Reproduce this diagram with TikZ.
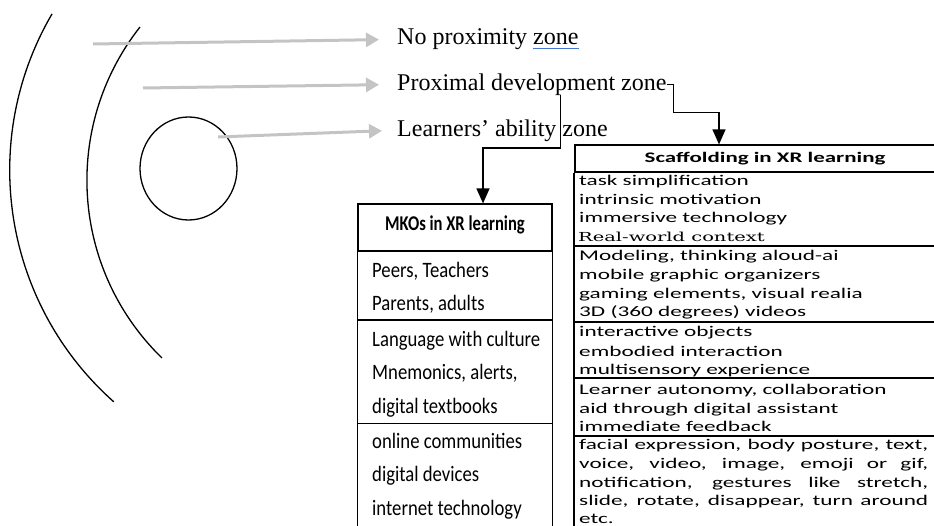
\documentclass[tikz,border=0pt]{standalone}
\usepackage{fontspec}
\setmainfont{Liberation Serif}
\newfontfamily\mkofont[FakeStretch=0.85]{Carlito}
\newfontfamily\mkohfont[FakeStretch=0.79]{Carlito}
\newfontfamily\scafont[FakeStretch=1.57]{Carlito}
\newfontfamily\rwfont[FakeStretch=1.57]{DejaVu Serif}
\usetikzlibrary{arrows.meta}
\definecolor{arrowgray}{RGB}{196,196,196}
\definecolor{spellblue}{RGB}{70,120,210}
\begin{document}
\begin{tikzpicture}[x=1pt,y=-1pt,
  zone/.style={font=\fontsize{24}{28}\selectfont, inner sep=0pt, anchor=base west},
  garrow/.style={draw=arrowgray, line width=3pt, -{Triangle[length=13pt,width=14pt]}},
  blk/.style={line width=1.3pt, -{Triangle[length=15pt,width=13pt]}},
  arcline/.style={line width=1.3pt},
  rule/.style={line width=1.2pt},
  mkotxt/.style={font=\mkofont\fontsize{22}{26}\selectfont, inner sep=0pt, anchor=base west},
  scatxt/.style={font=\scafont\fontsize{14.8}{18}\selectfont, inner sep=0pt, anchor=base west},
]
\useasboundingbox (0,0) rectangle (934,526);
\clip (0,0) rectangle (934,526);

% zones
\draw[arcline] ([shift={(319.5,170.2)}]149.7:309.8pt) arc[start angle=149.7, end angle=228.4, radius=309.8pt];
\draw[arcline] ([shift={(334.8,180.3)}]141.8:247.9pt) arc[start angle=141.8, end angle=225.8, radius=247.9pt];
\draw[arcline] (188.5,168.5) ellipse [x radius=48.5pt, y radius=51.5pt];

% zone labels
\node[zone] (z1) at (397,45) {No proximity zone};
\node[zone] (z2) at (397,90.5) {Proximal development zone};
\node[zone] (z3) at (397,136.5) {Learners’ ability zone};
\draw[spellblue, line width=1.3pt] ([shift={(-46,3.5)}]z1.base east) -- ([shift={(0,3.5)}]z1.base east);

\coordinate (g1) at (93,44);
\coordinate (g2) at (143,88);
\coordinate (g3) at (218,137);
\draw[garrow] (g1) -- ([xshift=-18pt]z1.west);
\draw[garrow] (g2) -- ([xshift=-18pt]z2.west);
\draw[garrow] (g3) -- ([xshift=-15pt]z3.west);

% MKO table
\node[draw, rule, minimum width=194pt, minimum height=47pt, inner sep=0pt,
  text height=12pt, text depth=5.6pt,
  font=\mkohfont\bfseries\fontsize{21}{25}\selectfont] (mkoh) at (455,227.5) {MKOs in XR learning};
\draw[rule] (mkoh.south west) -- ++(0,290);
\draw[rule] (mkoh.south east) -- ++(0,290);
\draw[rule] (358,320) -- (552,320);
\draw[rule] (358,423.3) -- (552,423.3);
\node[mkotxt] (m1) at (372,277.3) {Peers, Teachers};
\node[mkotxt] (m2) at (372,310.7) {Parents, adults};
\node[mkotxt] (m3) at (372,346.7) {Language with culture};
\node[mkotxt] (m4) at (372,380) {Mnemonics, alerts,};
\node[mkotxt] (m5) at (372,413.3) {digital textbooks};
\node[mkotxt] (m6) at (372,448.3) {online communities};
\node[mkotxt] (m7) at (372,481.7) {digital devices};
\node[mkotxt] (m8) at (372,515) {internet technology};

% Scaffolding table
\node[draw, rule, minimum width=380pt, minimum height=27pt, inner sep=0pt,
  text height=10pt, text depth=1.6pt,
  font=\scafont\bfseries\fontsize{14.6}{18}\selectfont] (scah) at (765,158.5) {Scaffolding in XR learning};
\draw[line width=1.9pt] (scah.south west) -- ++(0,360);
\foreach \yy in {246,322,378,436} \draw[rule] (573,\yy) -- (940,\yy);

\node[scatxt] (s1) at (579,186) {task simplification};
\node[scatxt] (s2) at (579,205) {intrinsic motivation};
\node[scatxt] (s3) at (579,223) {immersive technology};
\node[inner sep=0pt, anchor=base west, font=\rwfont\fontsize{12.4}{15}\selectfont] (s4) at (578,242) {Real-world context};
\node[scatxt] (s5) at (579,261) {Modeling, thinking aloud-ai};
\node[scatxt] (s6) at (579,280) {mobile graphic organizers};
\node[scatxt] (s7) at (579,299) {gaming elements, visual realia};
\node[scatxt] (s8) at (579,317) {3D (360 degrees) videos};
\node[scatxt] (s9) at (579,337) {interactive objects};
\node[scatxt] (s10) at (579,356) {embodied interaction};
\node[scatxt] (s11) at (579,374) {multisensory experience};
\node[scatxt] (s12) at (579,395) {Learner autonomy, collaboration};
\node[scatxt] (s13) at (579,413) {aid through digital assistant};
\node[scatxt] (s14) at (579,431) {immediate feedback};
\node[scatxt] (s15) at (579,449) {\makebox[349pt][s]{facial expression, body posture, text,}};
\node[scatxt] (s16) at (579,468) {\makebox[349pt][s]{voice, video, image, emoji or gif,}};
\node[scatxt] (s17) at (579,487) {\makebox[349pt][s]{notification, gestures like stretch,}};
\node[scatxt] (s18) at (579,505) {\makebox[349pt][s]{slide, rotate, disappear, turn around}};
\node[scatxt] (s19) at (579,523) {etc.};

% connectors
\coordinate (pdzdrop) at (560.5,95);
\coordinate (mkox) at (483,0);
\coordinate (scax) at (719,0);
\draw[blk] (pdzdrop) -- ++(0,53) -| (mkoh.north -| mkox);
\draw[blk] (z2.east) -- ++(7,0) -- ++(0,28) -| (scah.north -| scax);
\end{tikzpicture}
\end{document}
